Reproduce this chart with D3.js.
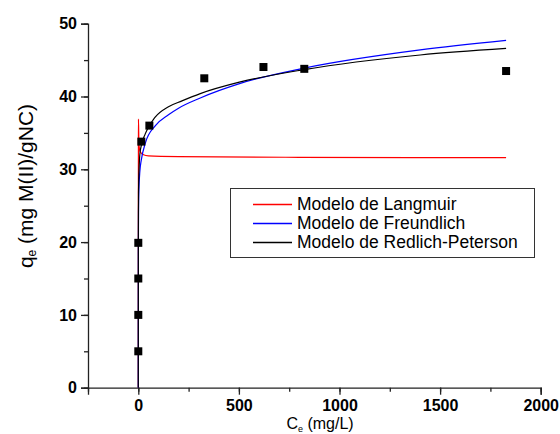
<!DOCTYPE html>
<html><head><meta charset="utf-8">
<script src="https://cdn.jsdelivr.net/npm/d3@7"></script>
<style>body{margin:0;background:#fff}svg{display:block}text{font-family:Arial,"Liberation Sans",sans-serif}</style>
</head><body><svg id="c" width="560" height="434"></svg>
<script>
// experimental points
const ptsC = [0, 0, 0, 0, 15, 55, 328, 622, 825, 1828];
const ptsQ = [5.0, 10.0, 15.0, 19.9, 33.8, 36.0, 42.5, 44.05, 43.8, 43.5];
// model curves
const langC = [0, 0.8, 3, 6, 10, 20, 26, 50, 200, 800, 1828];
const langQ = [0, 36.9, 33.6, 32.8, 32.4, 32.1, 32.0, 31.85, 31.75, 31.65, 31.6];
const freuC = [0, 0.3, 1, 3, 8, 15, 35, 85, 150, 200, 308, 507, 825, 1401, 1828];
const freuQ = [0, 18, 24, 27.2, 29.8, 31.3, 33.6, 36.0, 37.5, 38.4, 39.8, 41.8, 43.9, 46.4, 47.7];
const redlC = [0, 0.3, 1, 5, 10, 35, 85, 150, 217, 308, 507, 825, 1401, 1828];
const redlQ = [0, 20, 26.7, 30.8, 32.6, 34.9, 37.2, 38.6, 39.4, 40.4, 42.0, 43.7, 45.7, 46.6];
const xTicks = [0, 500, 1000, 1500, 2000];
const yTicks = [0, 10, 20, 30, 40, 50];
const legendLabels = ["Modelo de Langmuir", "Modelo de Freundlich", "Modelo de Redlich-Peterson"];
const colors = ["#ff0000", "#0000ff", "#000000"];

const svg = d3.select("#c");
const x = d3.scaleLinear().domain([-250, 2000]).range([88, 540.7]);
const y = d3.scaleLinear().domain([0, 50]).range([387.7, 23.7]);

// axes
const xMinor = d3.range(-250, 2001, 250);
const yMinor = d3.range(0, 51, 5);
const gx = svg.append("g").attr("transform", `translate(0,${y(0)})`);
gx.call(d3.axisBottom(x).tickValues(xMinor).tickSize(4).tickFormat(""));
gx.selectAll(".tick line").attr("stroke", "#222").attr("stroke-width", 1.3);
gx.select(".domain").remove();
const gx2 = svg.append("g").attr("transform", `translate(0,${y(0)})`);
gx2.call(d3.axisBottom(x).tickValues(xTicks).tickSize(7).tickPadding(5).tickFormat(d3.format("d")));
gx2.select(".domain").attr("stroke", "#222").attr("stroke-width", 1.3);
gx2.selectAll(".tick line").attr("stroke", "#222").attr("stroke-width", 1.3);
gx2.selectAll(".tick text").attr("font-size", 16).attr("font-weight", "bold").attr("fill", "#000")
   .attr("font-family", "Arial, 'Liberation Sans', sans-serif");

const gy = svg.append("g").attr("transform", `translate(${x(-250)},0)`);
gy.call(d3.axisLeft(y).tickValues(yMinor).tickSize(4).tickFormat(""));
gy.selectAll(".tick line").attr("stroke", "#222").attr("stroke-width", 1.3);
gy.select(".domain").remove();
const gy2 = svg.append("g").attr("transform", `translate(${x(-250)},0)`);
gy2.call(d3.axisLeft(y).tickValues(yTicks).tickSize(7).tickPadding(4).tickFormat(d3.format("d")));
gy2.select(".domain").attr("stroke", "#222").attr("stroke-width", 1.3);
gy2.selectAll(".tick line").attr("stroke", "#222").attr("stroke-width", 1.3);
gy2.selectAll(".tick text").attr("font-size", 16).attr("font-weight", "bold").attr("fill", "#000")
   .attr("font-family", "Arial, 'Liberation Sans', sans-serif");

// curves
const series = [[langC, langQ], [freuC, freuQ], [redlC, redlQ]];
const line = d3.line().x(d => x(d[0])).y(d => y(d[1])).curve(d3.curveMonotoneX);
series.forEach((s, i) => {
  const data = s[0].map((c, j) => [c, s[1][j]]);
  svg.append("path").datum(data).attr("d", line).attr("fill", "none")
     .attr("stroke", colors[i]).attr("stroke-width", 1.2);
});

// points
const ms = 8;
svg.append("g").selectAll("rect").data(ptsC.map((c, i) => [c, ptsQ[i]])).join("rect")
  .attr("x", d => x(d[0]) - ms / 2).attr("y", d => y(d[1]) - ms / 2)
  .attr("width", ms).attr("height", ms).attr("fill", "#000");

// legend
const lg = svg.append("g");
lg.append("rect").attr("x", 230.5).attr("y", 188.5).attr("width", 304).attr("height", 69)
  .attr("fill", "#fff").attr("stroke", "#333").attr("stroke-width", 1);
const rowsY = [204.5, 223.5, 242.5];
legendLabels.forEach((t, i) => {
  lg.append("line").attr("x1", 253).attr("x2", 292).attr("y1", rowsY[i]).attr("y2", rowsY[i])
    .attr("stroke", colors[i]).attr("stroke-width", 1.3);
  lg.append("text").attr("x", 297).attr("y", rowsY[i] + 5).attr("font-size", 17.5).attr("fill", "#000").text(t);
});

// axis titles
const yt = svg.append("text").attr("transform", `translate(33,186) rotate(-90)`)
  .attr("text-anchor", "middle").attr("font-size", 21).attr("fill", "#000");
yt.append("tspan").text("q");
yt.append("tspan").attr("font-size", 12).attr("dy", 3).text("e");
yt.append("tspan").attr("dy", -3).text(" (mg M(II)/gNC)");

const xt = svg.append("text").attr("x", 320).attr("y", 429).attr("text-anchor", "middle")
  .attr("font-size", 16).attr("fill", "#000");
xt.append("tspan").text("C");
xt.append("tspan").attr("font-size", 9).attr("dy", 3).text("e");
xt.append("tspan").attr("dy", -3).text(" (mg/L)");
</script></body></html>
